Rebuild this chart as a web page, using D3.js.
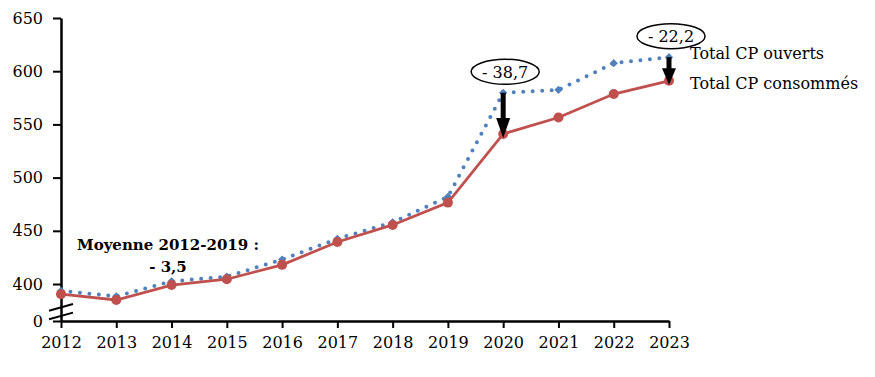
<!DOCTYPE html>
<html>
<head>
<meta charset="utf-8">
<script src="https://cdn.jsdelivr.net/npm/d3@7"></script>
<style>
  body { margin: 0; background: #fff; }
  svg text { font-family: "Palatino Linotype", "Book Antiqua", Palatino, "DejaVu Serif", serif; fill: #000; }
</style>
</head>
<body>
<script>
// years on the x axis
var years = [2012, 2013, 2014, 2015, 2016, 2017, 2018, 2019, 2020, 2021, 2022, 2023];
// credits opened (blue, dotted)
var cpOuverts = [393.5, 388.5, 402.5, 407, 423, 442.5, 458, 482, 579.7, 582.5, 607.5, 613.2];
// credits consumed (red, solid)
var cpConsommes = [390.5, 385, 399, 404.5, 418, 439.5, 455.5, 476.5, 541, 556.5, 578.5, 591];
// y tick labels (0 sits below the axis break)
var yTicks = [0, 400, 450, 500, 550, 600, 650];
// gap annotations
var gapYears = [2020, 2023];
var gapLabels = ["- 38,7", "- 22,2"];

var width = 875, height = 377;

var svg = d3.select("body").append("svg")
    .attr("width", width)
    .attr("height", height);

// x scale
var x = d3.scaleLinear().domain([2012, 2023]).range([61, 669]);
// y scale with a break between 0 and ~380
var y = d3.scaleLinear().domain([0, 380, 650]).range([321, 305.3, 18]);

// y axis
var yAxis = svg.append("g")
    .attr("transform", "translate(61,0)")
    .call(d3.axisLeft(y).tickValues(yTicks).tickSize(8).tickSizeOuter(0).tickPadding(10));
yAxis.select(".domain").attr("stroke", "#000").attr("stroke-width", 2.5);
yAxis.selectAll(".tick line").attr("stroke", "#000").attr("stroke-width", 2);
yAxis.selectAll(".tick text").style("font-size", "16px");

// x axis
var xAxis = svg.append("g")
    .attr("transform", "translate(0,321)")
    .call(d3.axisBottom(x).tickValues(years).tickFormat(d3.format("d")).tickSize(7).tickSizeOuter(0).tickPadding(9));
xAxis.select(".domain").attr("stroke", "#000").attr("stroke-width", 2.5);
xAxis.selectAll(".tick line").attr("stroke", "#000").attr("stroke-width", 2);
xAxis.selectAll(".tick text").style("font-size", "16px");

// axis break marks
svg.append("g").selectAll("line")
    .data([0, 8.6])
    .enter().append("line")
    .attr("x1", 49).attr("x2", 73)
    .attr("y1", function(d) { return 310.7 + d; })
    .attr("y2", function(d) { return 304 + d; })
    .attr("stroke", "#000")
    .attr("stroke-width", 2);

var line = d3.line()
    .x(function(d, i) { return x(years[i]); })
    .y(function(d) { return y(d); });

// opened: dotted blue
svg.append("path")
    .datum(cpOuverts)
    .attr("d", line)
    .attr("fill", "none")
    .attr("stroke", "#4F81BD")
    .attr("stroke-width", 4)
    .attr("stroke-linecap", "round")
    .attr("stroke-dasharray", "0 9.5");

// diamond markers
svg.append("g").selectAll("path")
    .data(cpOuverts)
    .enter().append("path")
    .attr("d", d3.symbol().type(d3.symbolSquare).size(34))
    .attr("transform", function(d, i) { return "translate(" + x(years[i]) + "," + y(d) + ") rotate(45)"; })
    .attr("fill", "#4F81BD");

// consumed: solid red
svg.append("path")
    .datum(cpConsommes)
    .attr("d", line)
    .attr("fill", "none")
    .attr("stroke", "#C0504D")
    .attr("stroke-width", 2.8);

svg.append("g").selectAll("circle")
    .data(cpConsommes)
    .enter().append("circle")
    .attr("cx", function(d, i) { return x(years[i]); })
    .attr("cy", function(d) { return y(d); })
    .attr("r", 5)
    .attr("fill", "#C0504D");

// arrows showing the gap
var arrows = svg.append("g").selectAll("g")
    .data(gapYears)
    .enter().append("g");

arrows.each(function(yr, k) {
    var i = years.indexOf(yr);
    var cx = x(yr), top = y(cpOuverts[i]), tip = y(cpConsommes[i]) + 4;
    var headLen = Math.min(20, (tip - top) * 0.6);
    var g = d3.select(this);
    g.append("line")
        .attr("x1", cx).attr("x2", cx)
        .attr("y1", top).attr("y2", tip - headLen + 1)
        .attr("stroke", "#000")
        .attr("stroke-width", 5);
    g.append("path")
        .attr("d", "M" + (cx - 7) + "," + (tip - headLen) + "L" + (cx + 7) + "," + (tip - headLen) + "L" + cx + "," + tip + "Z")
        .attr("fill", "#000");

    // ellipse label above the blue point
    var lx = cx + 2, ly = top - 21;
    g.append("ellipse")
        .attr("cx", lx).attr("cy", ly)
        .attr("rx", 34).attr("ry", 12.5)
        .attr("fill", "#fff")
        .attr("stroke", "#000")
        .attr("stroke-width", 1.5);
    g.append("text")
        .attr("x", lx).attr("y", ly + 6)
        .attr("text-anchor", "middle")
        .style("font-size", "16px")
        .text(gapLabels[k]);
});

// legend labels at line ends
svg.append("text")
    .attr("x", 690).attr("y", 59)
    .style("font-size", "16px")
    .text("Total CP ouverts");
svg.append("text")
    .attr("x", 690).attr("y", 89)
    .style("font-size", "16px")
    .text("Total CP consommés");

// average note
svg.append("text")
    .attr("x", 168).attr("y", 250)
    .attr("text-anchor", "middle")
    .style("font-size", "15px")
    .style("font-weight", "bold")
    .text("Moyenne 2012-2019 :");
svg.append("text")
    .attr("x", 168).attr("y", 272)
    .attr("text-anchor", "middle")
    .style("font-size", "15px")
    .style("font-weight", "bold")
    .text("- 3,5");
</script>
</body>
</html>
